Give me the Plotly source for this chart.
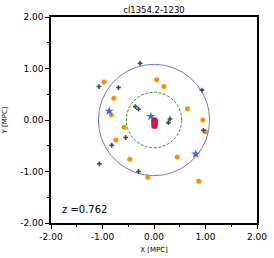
import numpy as np
import plotly.graph_objects as go

title = "cl1354.2-1230"
redshift_label = "z =0.762"

orange_x = [-0.97, 0.05, 0.19, -0.78, 0.65, -0.83, 0.95, -0.58, 1.00, -0.74, -0.47, 0.45, -0.12, 0.87]
orange_y = [0.74, 0.78, 0.65, 0.42, 0.22, 0.10, 0.00, -0.14, -0.23, -0.39, -0.76, -0.72, -1.11, -1.19]

grey_x = [-0.27, -1.07, -0.69, 0.93, -0.36, -0.30, 0.31, 0.28, 0.96, -0.55, -0.82, -1.06, -0.30]
grey_y = [1.10, 0.65, 0.63, 0.58, 0.26, 0.21, 0.02, -0.05, -0.20, -0.34, -0.49, -0.85, -1.00]

star_x = [-0.87, -0.06, 0.81]
star_y = [0.17, 0.07, -0.66]

red_x = [0.01, 0.01, 0.01, 0.01]
red_y = [-0.01, -0.04, -0.07, -0.11]

r_outer = 1.08
r_inner = 0.54

tick_vals = [-2, -1, 0, 1, 2]
tick_text = ["-2.00", "-1.00", "0.00", "1.00", "2.00"]

theta = np.linspace(0, 2 * np.pi, 721)

fig = go.Figure()
fig.add_trace(go.Scatter(x=r_outer * np.cos(theta), y=r_outer * np.sin(theta), mode="lines",
                         line=dict(color="#7b68ee", width=1), hoverinfo="skip"))
fig.add_trace(go.Scatter(x=r_inner * np.cos(theta), y=r_inner * np.sin(theta), mode="lines",
                         line=dict(color="#2e9a2e", width=1, dash="3px,1.5px"), hoverinfo="skip"))
fig.add_trace(go.Scatter(x=orange_x, y=orange_y, mode="markers",
                         marker=dict(color="#ff8c00", size=5, line=dict(width=0))))
fig.add_trace(go.Scatter(x=grey_x, y=grey_y, mode="markers",
                         marker=dict(color="#2f4f4f", size=4, symbol="cross", line=dict(width=0))))
fig.add_trace(go.Scatter(x=star_x, y=star_y, mode="markers",
                         marker=dict(color="#4169e1", size=7, symbol="star", line=dict(width=0))))
fig.add_trace(go.Scatter(x=red_x, y=red_y, mode="markers",
                         marker=dict(color="#dc143c", size=6.5, line=dict(width=0))))

fig.add_annotation(x=-1.82, y=-1.73, text=redshift_label, showarrow=False, xanchor="left",
                   yanchor="middle", font=dict(size=10, color="black", family="DejaVu Sans"))

axis_common = dict(range=[-2, 2], tickvals=tick_vals, ticktext=tick_text, ticks="outside",
                   ticklen=4, tickwidth=1, tickcolor="black", showline=True, linecolor="black",
                   linewidth=1.5, mirror=True, showgrid=False, zeroline=False, automargin=False,
                   tickfont=dict(size=9, color="black", family="DejaVu Sans"),
                   minor=dict(dtick=0.5, ticks="outside", ticklen=2, tickcolor="black"))

fig.update_layout(
    width=274, height=258,
    margin=dict(l=51, r=17, t=17, b=35),
    plot_bgcolor="white", paper_bgcolor="white",
    showlegend=False,
    title=dict(text=title, x=0.5, xref="paper", y=1, yref="paper", yanchor="bottom",
               automargin=False,
               pad=dict(b=4), font=dict(size=8.5, color="black", family="DejaVu Sans")),
    xaxis=dict(axis_common, title=dict(text="X [MPC]", standoff=7,
                                       font=dict(size=7, color="black", family="DejaVu Sans"))),
    yaxis=dict(axis_common, title=dict(text="Y [MPC]", standoff=12,
                                       font=dict(size=7, color="black", family="DejaVu Sans"))),
)

fig.write_html("out.html", config={"displayModeBar": False},
               post_script="document.body.style.margin='0';document.body.style.overflow='hidden';")
